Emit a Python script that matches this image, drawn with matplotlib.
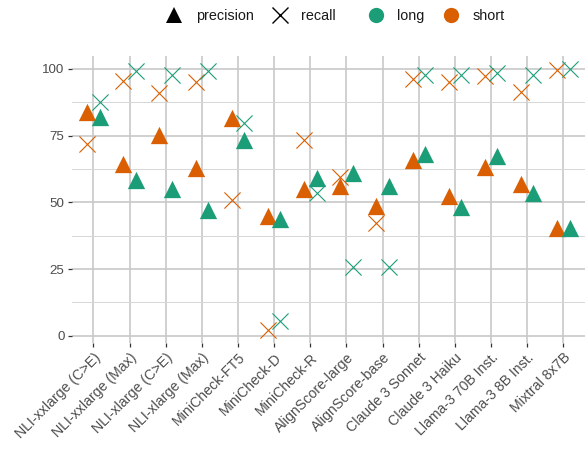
import matplotlib
matplotlib.use("Agg")
import matplotlib.pyplot as plt
from matplotlib.lines import Line2D
import numpy as np

plt.rcParams['font.family'] = ['Liberation Sans', 'DejaVu Sans']

models = ["NLI-xxlarge (C>E)", "NLI-xxlarge (Max)", "NLI-xlarge (C>E)", "NLI-xlarge (Max)",
          "MiniCheck-FT5", "MiniCheck-D", "MiniCheck-R", "AlignScore-large",
          "AlignScore-base", "Claude 3 Sonnet", "Claude 3 Haiku", "Llama-3 70B Inst.",
          "Llama-3 8B Inst.", "Mixtral 8x7B"]

short_precision = [83.8, 64.2, 75.1, 63.0, 81.5, 44.8, 55.0, 56.1, 48.6, 65.9, 52.5, 63.1, 56.9, 40.5]
short_recall    = [71.7, 95.6, 91.1, 95.0, 50.9, 2.1, 73.4, 59.6, 42.1, 96.2, 95.0, 97.3, 91.5, 99.6]
long_precision  = [82.0, 58.4, 54.9, 47.1, 73.5, 43.7, 59.3, 61.1, 56.1, 68.0, 48.4, 67.5, 53.6, 40.5]
long_recall     = [87.7, 99.2, 97.7, 99.3, 79.8, 5.5, 53.6, 25.9, 25.6, 97.7, 97.7, 98.6, 97.7, 100.0]

yticks = [0, 25, 50, 75, 100]
yminor = [12.5, 37.5, 62.5, 87.5]

GREEN = "#1b9e77"
ORANGE = "#d95f02"

fig = plt.figure(figsize=(5.85, 4.57), dpi=100)
ax = fig.add_axes([0.1226, 0.249, 0.8774, 0.6287])

x = np.arange(len(models))
dodge = 0.172

series = [
    (short_precision, x - dodge, ORANGE, '^'),
    (short_recall, x - dodge, ORANGE, 'x'),
    (long_precision, x + dodge, GREEN, '^'),
    (long_recall, x + dodge, GREEN, 'x'),
]
for vals, xs, col, mk in [series[0], series[2], series[1], series[3]]:
    if mk == '^':
        ax.scatter(xs, vals, marker='^', s=155, color=col, linewidths=0, zorder=3)
    else:
        ax.scatter(xs, vals, marker='x', s=135, color=col, linewidths=0.8, zorder=4)

ax.set_xlim(-0.6, len(models) - 0.4)
ax.set_ylim(-2.8, 104.9)
ax.set_xticks(x)
ax.set_xticklabels(models, rotation=45, ha='right', rotation_mode='anchor')
ax.set_yticks(yticks)
ax.set_yticklabels([str(v) for v in yticks])
ax.set_yticks(yminor, minor=True)

ax.grid(True, which='major', color='#c8c8c8', linewidth=1.2, zorder=0)
ax.grid(True, which='minor', axis='y', color='#d6d6d6', linewidth=0.7, zorder=0)
ax.set_axisbelow(True)
for sp in ax.spines.values():
    sp.set_visible(False)
ax.tick_params(axis='both', which='major', length=3.2, width=0.9, color='#333333',
               labelcolor='#4d4d4d', labelsize=9.6, pad=2)
ax.tick_params(axis='x', which='major', labelsize=10.2)
ax.tick_params(axis='y', which='minor', length=0)

shape_handles = [
    Line2D([], [], marker='^', color='black', linestyle='none', markersize=12, markeredgewidth=0),
    Line2D([], [], marker='x', color='black', linestyle='none', markersize=12, markeredgewidth=1.0),
]
color_handles = [
    Line2D([], [], marker='o', color=GREEN, linestyle='none', markersize=11, markeredgewidth=0),
    Line2D([], [], marker='o', color=ORANGE, linestyle='none', markersize=11, markeredgewidth=0),
]
leg1 = fig.legend(shape_handles, ["precision", "recall"], loc='center', ncol=2,
                  bbox_to_anchor=(250 / 585, 1 - 16 / 457), frameon=False, fontsize=10.4,
                  handletextpad=0.8, columnspacing=1.1, handlelength=1.4)
leg2 = fig.legend(color_handles, ["long", "short"], loc='center', ncol=2,
                  bbox_to_anchor=(435 / 585, 1 - 16 / 457), frameon=False, fontsize=10.4,
                  handletextpad=0.8, columnspacing=1.1, handlelength=1.4)
for lg in (leg1, leg2):
    for t in lg.get_texts():
        t.set_color('#1a1a1a')

fig.savefig("out.png", dpi=100)
